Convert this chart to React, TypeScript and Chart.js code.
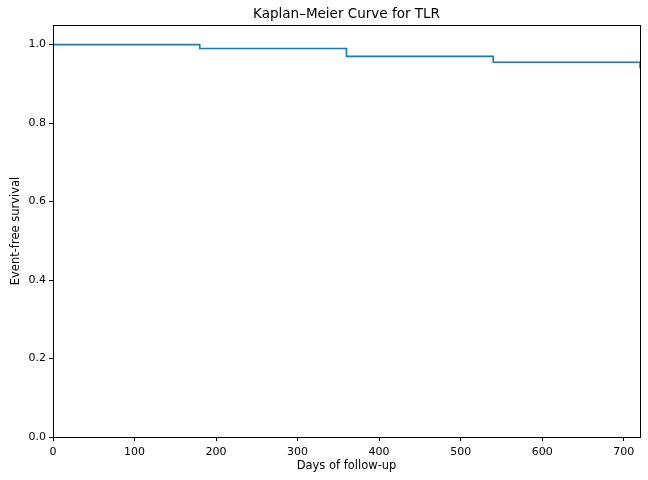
import React, { useEffect, useRef } from "react";
import { Chart, registerables } from "chart.js";

Chart.register(...registerables);

const days = [0, 180, 360, 540, 720];
const survival = [1.0, 0.99, 0.97, 0.955, 0.94];
const xTicks = [0, 100, 200, 300, 400, 500, 600, 700];
const yTicks = [0, 0.2, 0.4, 0.6, 0.8, 1.0];
const titleText = "Kaplan–Meier Curve for TLR";

const FONT = "'DejaVu Sans', sans-serif";

const frame = {
  id: "frame",
  afterDraw(chart: any) {
    const { ctx, chartArea } = chart;
    ctx.save();
    ctx.strokeStyle = "#000";
    ctx.lineWidth = 1;
    ctx.strokeRect(
      Math.round(chartArea.left) + 0.5,
      Math.round(chartArea.top) + 0.5,
      Math.round(chartArea.right - chartArea.left),
      Math.round(chartArea.bottom - chartArea.top)
    );
    ctx.fillStyle = "#000";
    ctx.font = `13.5px ${FONT}`;
    ctx.textAlign = "center";
    ctx.textBaseline = "middle";
    ctx.fillText(titleText, (chartArea.left + chartArea.right) / 2, 14);
    ctx.restore();
  },
};

export default function App() {
  const ref = useRef<HTMLCanvasElement>(null);
  useEffect(() => {
    document.body.style.margin = "0";
    const chart = new Chart(ref.current!, {
      type: "line",
      data: {
        datasets: [
          {
            data: days.map((d, i) => ({ x: d, y: survival[i] })),
            borderColor: "#1f77b4",
            borderWidth: 1.6,
            pointRadius: 0,
            stepped: "before",
            fill: false,
          },
        ],
      },
      options: {
        animation: false,
        responsive: false,
        layout: { padding: { left: 0, right: 8, top: 25, bottom: 0 } },
        plugins: {
          legend: { display: false },
          tooltip: { enabled: false },
          title: { display: false },
        },
        scales: {
          x: {
            type: "linear",
            min: 0,
            max: 720,
            afterBuildTicks: (s: any) => {
              s.ticks = xTicks.map((v) => ({ value: v }));
            },
            afterFit: (s: any) => {
              s.height = 43;
            },
            grid: { drawOnChartArea: false, drawTicks: true, tickLength: 4, color: "#000" },
            border: { display: true, color: "#000" },
            ticks: {
              color: "#000",
              font: { family: FONT, size: 11 },
              padding: 5,
              maxRotation: 0,
              autoSkip: false,
            },
            title: {
              display: true,
              text: "Days of follow-up",
              color: "#000",
              font: { family: FONT, size: 11.5 },
              padding: { top: 0, bottom: 7 },
            },
          },
          y: {
            type: "linear",
            min: 0,
            max: 1.05,
            afterBuildTicks: (s: any) => {
              s.ticks = yTicks.map((v) => ({ value: v }));
            },
            afterFit: (s: any) => {
              s.width = 53;
            },
            grid: { drawOnChartArea: false, drawTicks: true, tickLength: 4, color: "#000" },
            border: { display: true, color: "#000" },
            ticks: {
              color: "#000",
              font: { family: FONT, size: 11 },
              padding: 3,
              callback: (v: any) => Number(v).toFixed(1),
            },
            title: {
              display: true,
              text: "Event-free survival",
              color: "#000",
              font: { family: FONT, size: 11.5 },
              padding: { top: 9, bottom: 0 },
            },
          },
        },
      },
      plugins: [frame],
    });
    return () => chart.destroy();
  }, []);
  return <canvas ref={ref} width={648} height={480} style={{ display: "block" }} />;
}
